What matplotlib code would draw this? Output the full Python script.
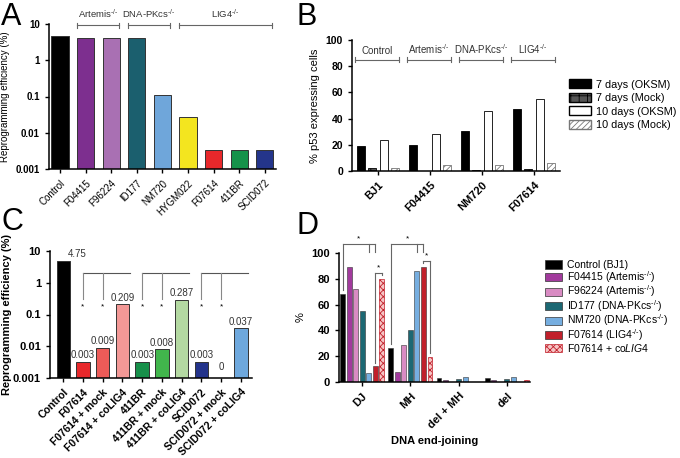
import matplotlib
matplotlib.use('Agg')
import matplotlib.pyplot as plt
import matplotlib.transforms as mtransforms
from matplotlib.patches import Patch
import numpy as np

plt.rcParams['font.family'] = ['Liberation Sans', 'DejaVu Sans']
plt.rcParams['mathtext.fontset'] = 'custom'
plt.rcParams['mathtext.rm'] = 'Liberation Sans'
plt.rcParams['mathtext.it'] = 'Liberation Sans:italic'
plt.rcParams['mathtext.default'] = 'regular'
plt.rcParams['hatch.linewidth'] = 0.6
plt.rcParams['axes.linewidth'] = 1.1

KO = '$^{\\text{-/-}}$'

# ---- panel A: reprogramming efficiency per cell line
a_lines = ['Control', 'F04415', 'F96224', 'ID177', 'NM720', 'HYGM022', 'F07614', '411BR', 'SCID072']
a_eff = [4.75, 4.2, 4.0, 4.2, 0.11, 0.027, 0.0033, 0.0033, 0.0033]
a_colors = ['#000000', '#7d2f8f', '#a970b3', '#1b5f6e', '#6fa6da', '#f3e51f', '#e8282b', '#16924a', '#24358b']
a_groups = [('Artemis' + KO, 1, 2), ('DNA-PKcs' + KO, 3, 4), ('LIG4' + KO, 5, 8)]

# ---- panel B: p53 expressing cells
b_lines = ['BJ1', 'F04415', 'NM720', 'F07614']
b_groups = ['Control', 'Artemis' + KO, 'DNA-PKcs' + KO, 'LIG4' + KO]
b_series = ['7 days (OKSM)', '7 days (Mock)', '10 days (OKSM)', '10 days (Mock)']
b_7d_oksm = [19, 20, 30.5, 47]
b_7d_mock = [2.5, 0, 1, 1.3]
b_10d_oksm = [24, 28, 46, 55]
b_10d_mock = [2, 4.3, 4.3, 6]

# ---- panel C: rescue with coLIG4
c_lines = ['Control', 'F07614', 'F07614 + mock', 'F07614 + coLIG4', '411BR', '411BR + mock',
           '411BR + coLIG4', 'SCID072', 'SCID072 + mock', 'SCID072 + coLIG4']
c_eff = [4.75, 0.0033, 0.009, 0.209, 0.0033, 0.008, 0.287, 0.0033, 0, 0.037]
c_text = ['4.75', '0.003', '0.009', '0.209', '0.003', '0.008', '0.287', '0.003', '0', '0.037']
c_colors = ['#000000', '#e8282b', '#ec5b58', '#f39896', '#17904a', '#41b64c', '#b4d9a2', '#23338b', '#ffffff', '#6ea8dd']

# ---- panel D: DNA end-joining
d_cats = ['DJ', 'MH', 'del + MH', 'del']
d_series = ['Control (BJ1)', 'F04415 (Artemis' + KO + ')', 'F96224 (Artemis' + KO + ')',
            'ID177 (DNA-PKcs' + KO + ')', 'NM720 (DNA-PKcs' + KO + ')', 'F07614 (LIG4' + KO + ')',
            'F07614 + co$\\mathit{LIG4}$']
d_control = [68, 26.6, 2.9, 2.9]
d_f04415 = [89.5, 7.4, 1.3, 1.3]
d_f96224 = [72, 28.7, 0, 0]
d_id177 = [54.7, 40.3, 2.4, 2.4]
d_nm720 = [7.1, 85.8, 3.7, 3.7]
d_f07614 = [12.1, 89, 0, 0]
d_colig4 = [79.7, 19.2, 0, 1.6]
d_colors = ['#000000', '#a23a9d', '#d98bc3', '#1c6873', '#76aee0', '#c1202b', '#f6c4c4']

GRAY = '#666666'

fig = plt.figure(figsize=(6.8, 4.58), dpi=100)


def style(ax):
    ax.spines['top'].set_visible(False)
    ax.spines['right'].set_visible(False)
    ax.tick_params(direction='out', length=3, width=1)


def bracket(ax, x0, x1, y, text, ty, fs=7):
    trans = mtransforms.blended_transform_factory(ax.transData, ax.transAxes)
    ax.plot([x0, x1], [y, y], color=GRAY, lw=0.8, transform=trans, clip_on=False)
    for x in (x0, x1):
        ax.plot([x, x], [y - 0.018, y + 0.018], color=GRAY, lw=0.8, transform=trans, clip_on=False)
    ax.text((x0 + x1) / 2, ty, text, transform=trans, ha='center', va='bottom', fontsize=fs, color='#333333')


# ================= A
axA = fig.add_axes([49 / 680, 1 - 169 / 458, 227 / 680, 145 / 458])
xa = np.arange(len(a_lines))
axA.bar(xa, a_eff, width=0.67, color=a_colors, edgecolor='#333333', linewidth=0.7, log=True)
axA.set_yscale('log')
axA.set_ylim(0.001, 10)
axA.set_xlim(-0.43, 8.44)
axA.set_yticks([0.001, 0.01, 0.1, 1, 10])
axA.set_yticklabels(['0.001', '0.01', '0.1', '1', '10'], fontweight='bold', fontsize=7)
axA.minorticks_off()
axA.set_xticks(xa)
axA.set_xticklabels(a_lines, rotation=45, ha='right', rotation_mode='anchor', fontsize=7)
axA.set_ylabel('Reprogramming efficiency (%)', fontsize=7)
style(axA)
for name, i0, i1 in a_groups:
    bracket(axA, i0 - 0.35, i1 + 0.3, 0.99, name, 1.03, fs=6.8)

# ================= B
axB = fig.add_axes([352 / 680, 1 - 171 / 458, 208 / 680, 131 / 458])
xb = np.arange(len(b_lines))
bw = 0.155
axB.bar(xb - 0.32, b_7d_oksm, bw, color='black', edgecolor='black', lw=0.6)
axB.bar(xb - 0.107, b_7d_mock, bw, color='#555555', edgecolor='black', hatch='++', lw=0.6)
axB.bar(xb + 0.107, b_10d_oksm, bw, color='white', edgecolor='black', lw=0.6)
axB.bar(xb + 0.32, b_10d_mock, bw, color='white', edgecolor='#777777', hatch='//////', lw=0.6)
axB.set_xlim(-0.5, 3.5)
axB.set_ylim(0, 100)
axB.set_yticks(range(0, 101, 20))
axB.set_yticklabels([str(v) for v in range(0, 101, 20)], fontweight='bold', fontsize=7.5)
axB.set_xticks(xb)
axB.set_xticklabels(b_lines, rotation=45, ha='right', rotation_mode='anchor', fontsize=8, fontweight='bold')
axB.set_ylabel('% p53 expressing cells', fontsize=8)
style(axB)
for i, name in enumerate(b_groups):
    bracket(axB, i - 0.44, i + 0.4, 0.85, name, 0.875)
b_handles = [Patch(facecolor='black', edgecolor='black'),
             Patch(facecolor='#555555', edgecolor='black', hatch='++'),
             Patch(facecolor='white', edgecolor='black'),
             Patch(facecolor='white', edgecolor='#777777', hatch='//////')]
fig.legend(b_handles, b_series, loc='upper left', bbox_to_anchor=(565 / 680, 1 - 75 / 458),
           frameon=False, fontsize=7.8, handlelength=2.0, handleheight=0.9, labelspacing=0.3,
           handletextpad=0.5, borderaxespad=0)

# ================= C
axC = fig.add_axes([50 / 680, 1 - 378 / 458, 202 / 680, 127 / 458])
xc = np.arange(len(c_lines))
axC.bar(xc, c_eff, width=0.68, color=c_colors, edgecolor='#333333', linewidth=0.7, log=True)
axC.set_yscale('log')
axC.set_ylim(0.001, 10)
axC.set_xlim(-0.67, 9.56)
axC.set_yticks([0.001, 0.01, 0.1, 1, 10])
axC.set_yticklabels(['0.001', '0.01', '0.1', '1', '10'], fontweight='bold', fontsize=8)
axC.minorticks_off()
axC.set_xticks(xc)
axC.set_xticklabels(c_lines, rotation=45, ha='right', rotation_mode='anchor', fontsize=7.6, fontweight='bold')
axC.set_ylabel('Reprogramming efficiency (%)', fontsize=8, labelpad=1, fontweight='bold')
style(axC)
for i, (v, t) in enumerate(zip(c_eff, c_text)):
    if i == 0:
        axC.text(i + 0.72, v * 1.15, t, ha='center', va='bottom', fontsize=7, color='#333333')
    else:
        axC.text(i, max(v, 0.0014) * 1.12, t, ha='center', va='bottom', fontsize=7, color='#333333')
for i in (1, 4, 7):
    axC.plot([i, i + 2.38], [2.1, 2.1], color='#555555', lw=0.8, clip_on=False)
    for j in (i, i + 1):
        axC.plot([j, j], [2.1, 0.3], color='#888888', lw=0.8)
        axC.text(j, 0.17, '*', ha='center', va='center', fontsize=6)

# ================= D
axD = fig.add_axes([339 / 680, 1 - 382 / 458, 191 / 680, 129 / 458])
xd = np.arange(len(d_cats))
d_all = [d_control, d_f04415, d_f96224, d_id177, d_nm720, d_f07614, d_colig4]
step = 0.135
for k, vals in enumerate(d_all):
    off = (k - 3) * step
    if k == 6:
        axD.bar(xd + off, vals, 0.1, color=d_colors[k], edgecolor='#c1202b', hatch='xxxxx', lw=0.5)
    else:
        axD.bar(xd + off, vals, 0.1, color=d_colors[k], edgecolor='#333333', lw=0.4)
axD.set_xlim(-0.48, 3.48)
axD.set_ylim(0, 100)
axD.set_yticks(range(0, 101, 20))
axD.set_yticklabels([str(v) for v in range(0, 101, 20)], fontweight='bold', fontsize=8)
axD.set_xticks(xd)
axD.set_xticklabels(d_cats, rotation=45, ha='right', rotation_mode='anchor', fontsize=8, fontweight='bold')
axD.set_ylabel('%', fontsize=8)
axD.set_xlabel('DNA end-joining', fontsize=8, fontweight='bold')
style(axD)


def dline(xs, ys):
    axD.plot(xs, ys, color=GRAY, lw=0.8, clip_on=False)


for g in (0, 1):
    top = 107
    xl = g + (0 - 3) * step
    xr1 = g + (4 - 3) * step
    xr2 = g + (5 - 3) * step
    dline([xl, xr2], [top, top])
    dline([xl, xl], [top, d_control[g] + 3])
    dline([xr1, xr1], [top, 101])
    dline([xr2, xr2], [top, 101])
    axD.text((xl + xr2) / 2, top + 1, '*', ha='center', va='bottom', fontsize=6)
    xh = g + (6 - 3) * step
    y2 = max(d_f07614[g], d_colig4[g]) + 5
    dline([xr2, xh], [y2, y2])
    dline([xr2, xr2], [y2, d_f07614[g] + 3])
    dline([xh, xh], [y2, d_colig4[g] + 3])
    axD.text((xr2 + xh) / 2, y2 + 1, '*', ha='center', va='bottom', fontsize=6)

d_handles = [Patch(facecolor=c, edgecolor='#333333', lw=0.5) for c in d_colors[:6]]
d_handles.append(Patch(facecolor=d_colors[6], edgecolor='#c1202b', hatch='xxxxx', lw=0.5))
fig.legend(d_handles, d_series, loc='upper left', bbox_to_anchor=(541 / 680, 1 - 256 / 458),
           frameon=False, fontsize=7.5, handlelength=1.6, handleheight=0.85, labelspacing=-0.12,
           handletextpad=0.5, borderaxespad=0)

# panel letters
for lab, x, y in [('A', 0.002, 0.995), ('B', 0.436, 0.995), ('C', 0.002, 0.548), ('D', 0.436, 0.54)]:
    fig.text(x, y, lab, fontsize=22, va='top', ha='left')

fig.savefig('out.png', dpi=100)
